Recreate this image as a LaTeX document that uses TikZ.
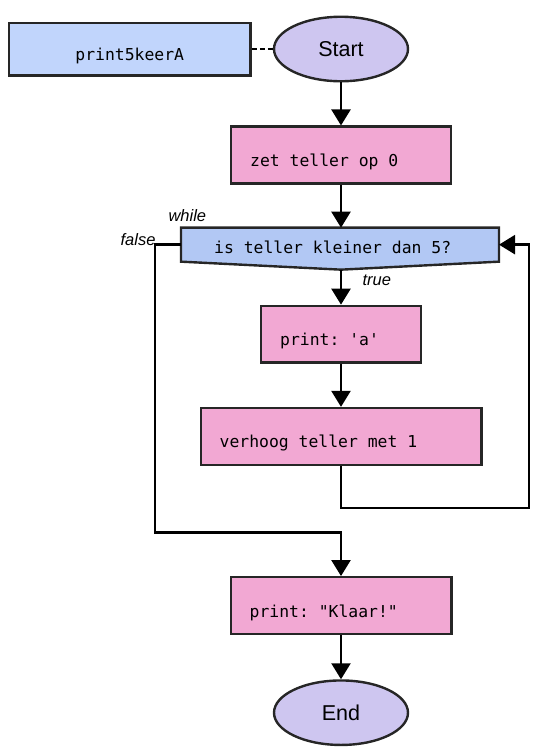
\documentclass[tikz,border=0pt]{standalone}
\usepackage{fontspec}
\setmainfont{Liberation Sans}
\setsansfont{Liberation Sans}
\setmonofont{DejaVu Sans Mono}
\usepackage{tikz}
\usetikzlibrary{arrows.meta,positioning,backgrounds,calc,shapes.geometric}
\definecolor{lichtblauw}{RGB}{193,213,252}
\definecolor{lila}{RGB}{206,198,240}
\definecolor{roze}{RGB}{242,168,211}
\definecolor{keuzeblauw}{RGB}{178,200,244}

\begin{document}
\begin{tikzpicture}[
		>={Triangle[width=19pt,length=16pt]},
		line width=2.4pt,
		font=\fontsize{16.4}{19}\ttfamily,
		terminal/.style={
			ellipse,
			draw=black!85,
			fill=lila,
			inner sep=0pt,
			minimum width=134pt,
			minimum height=64.5pt,
			font=\fontsize{21.5}{24}\sffamily
		},
		opdracht/.style={
			rectangle,
			draw=black!85,
			fill=roze,
			inner xsep=19pt,
			align=flush left,
			execute at begin node={\spaceskip=0pt\relax},
			text height=27pt,
			text depth=4pt,
			minimum height=56.8pt
		},
		hoofd/.style={
			rectangle,
			draw=black!85,
			fill=lichtblauw,
			minimum width=241.6pt,
			minimum height=52.6pt,
			text height=26pt,
			text depth=4pt
		},
		keuze/.style={
			rectangle,
			inner xsep=32pt,
			inner ysep=0pt,
			align=flush left,
			execute at begin node={\spaceskip=0pt\relax},
			text width=251.6pt,
			text height=22pt,
			text depth=4pt,
			minimum height=31.6pt
		},
		opmerking/.style={
			font=\fontsize{16.5}{18}\sffamily\itshape
		}
		]
		\useasboundingbox (0,0) rectangle (540pt,-756pt);
		
		% We start by placing the blocks
		\node [terminal] (start) at (341pt,-49pt) {Start};
		
		\node [hoofd, left=21pt of start] (hoofd) {print5keerA};
		
		\node [opdracht, below=43pt of start, text width=181.6pt] (zet) {zet teller op 0};
		
		\node [keuze, below=43pt of zet, xshift=-1pt] (cond) {is teller kleiner dan 5?};
		\coordinate (punt) at ($(cond.south)+(1pt,-8pt)$);
		
		\node [opdracht, below=43pt of punt |- cond.south, text width=121.6pt] (printa)
		{print: \textquotesingle a\textquotesingle};
		
		\node [opdracht, below=43pt of printa, text width=242.6pt] (verhoog) {verhoog teller met 1};
		
		\node [opdracht, below=110pt of verhoog, text width=182.6pt] (klaar)
		{print: \textquotedbl Klaar!\textquotedbl};
		
		\node [terminal, below=44pt of klaar] (eind) {End};
		
		% the decision shape behind its text
		\begin{scope}[on background layer]
		\draw [draw=black!85, fill=keuzeblauw, line width=2.4pt] (cond.north west) -- (cond.north east)
		-- (cond.south east) -- (punt) -- (cond.south west) -- cycle;
		\end{scope}
		
		\node [opmerking, anchor=base west] (while) at ([xshift=-17pt,yshift=6pt]cond.north west) {while};
		\node [opmerking, anchor=base east] (false) at ([xshift=-21pt,yshift=-1pt]cond.west) {false};
		\node [opmerking, anchor=base west] (true) at ([xshift=17pt,yshift=-16pt]punt) {true};
		
		\draw [draw, dash pattern=on 5pt off 3pt, line width=1.5pt] (hoofd) -- (start);
		\draw [draw,->] (start) -- (zet);
		\draw [draw,->] (zet) -- (zet |- cond.north);
		\draw [draw,->] (punt) -- (printa);
		\draw [draw,->] (printa) -- (verhoog);
		\draw [draw,->] (verhoog.south) -- ++(0,-42pt) -| ([xshift=30pt]cond.east) -- (cond.east);
		\draw [draw,->] (cond.west) -- ++(-26pt,0) -- ++(0,-288pt) -| (klaar.north);
		\draw [draw,->] (klaar) -- (eind);
		
		\end{tikzpicture}
\end{document}
